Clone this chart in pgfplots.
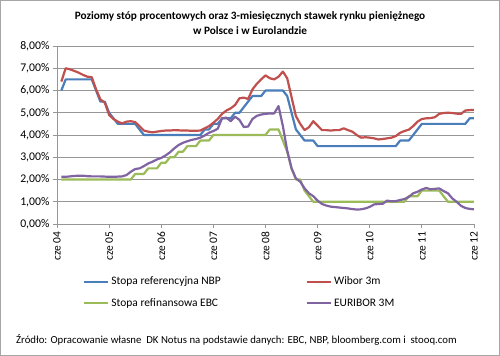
\documentclass[border=0pt]{standalone}
\usepackage{pgfplots}
\pgfplotsset{compat=1.18}
\usepackage{pgfplotstable}
\usepackage{fontspec}
\setmainfont{Carlito}
\definecolor{cblue}{RGB}{74,126,187}
\definecolor{cred}{RGB}{192,80,77}
\definecolor{cgreen}{RGB}{155,187,89}
\definecolor{cpurple}{RGB}{128,100,162}
\definecolor{gridc}{RGB}{150,150,150}
\pgfplotstableread{
m nbp wibor ebc euribor
1 6.00 6.40 2.00 2.12
2 6.50 7.00 2.00 2.12
3 6.50 6.95 2.00 2.14
4 6.50 6.88 2.00 2.16
5 6.50 6.80 2.00 2.17
6 6.50 6.70 2.00 2.17
7 6.50 6.62 2.00 2.15
8 6.50 6.60 2.00 2.14
9 6.00 6.05 2.00 2.14
10 5.50 5.60 2.00 2.14
11 5.50 5.45 2.00 2.13
12 5.00 4.90 2.00 2.12
13 4.75 4.72 2.00 2.12
14 4.50 4.60 2.00 2.13
15 4.50 4.52 2.00 2.14
16 4.50 4.60 2.00 2.20
17 4.50 4.62 2.00 2.35
18 4.50 4.58 2.25 2.47
19 4.25 4.40 2.25 2.50
20 4.00 4.20 2.25 2.60
21 4.00 4.15 2.50 2.72
22 4.00 4.12 2.50 2.80
23 4.00 4.15 2.50 2.90
24 4.00 4.18 2.75 2.97
25 4.00 4.20 2.75 3.08
26 4.00 4.20 3.00 3.22
27 4.00 4.22 3.00 3.40
28 4.00 4.21 3.25 3.55
29 4.00 4.20 3.25 3.65
30 4.00 4.20 3.50 3.72
31 4.00 4.19 3.50 3.78
32 4.00 4.19 3.50 3.82
33 4.00 4.20 3.75 3.88
34 4.25 4.30 3.75 3.98
35 4.25 4.40 3.75 4.10
36 4.50 4.55 4.00 4.18
37 4.50 4.72 4.00 4.28
38 4.75 4.95 4.00 4.75
39 4.75 5.10 4.00 4.78
40 4.75 5.20 4.00 4.62
41 5.00 5.35 4.00 4.82
42 5.00 5.65 4.00 4.68
43 5.25 5.68 4.00 4.36
44 5.50 5.62 4.00 4.38
45 5.75 6.05 4.00 4.72
46 5.75 6.30 4.00 4.86
47 5.75 6.50 4.00 4.92
48 6.00 6.68 4.00 4.95
49 6.00 6.55 4.25 4.97
50 6.00 6.50 4.25 4.97
51 6.00 6.62 4.25 5.30
52 6.00 6.85 3.75 4.40
53 5.75 6.55 3.25 3.30
54 5.00 5.70 2.50 2.50
55 4.25 4.85 2.00 2.05
56 4.00 4.50 2.00 1.90
57 3.75 4.22 1.50 1.60
58 3.75 4.35 1.25 1.38
59 3.75 4.62 1.00 1.25
60 3.50 4.42 1.00 1.05
61 3.50 4.22 1.00 0.90
62 3.50 4.22 1.00 0.83
63 3.50 4.20 1.00 0.78
64 3.50 4.22 1.00 0.76
65 3.50 4.22 1.00 0.74
66 3.50 4.30 1.00 0.72
67 3.50 4.22 1.00 0.70
68 3.50 4.15 1.00 0.67
69 3.50 4.00 1.00 0.65
70 3.50 3.88 1.00 0.66
71 3.50 3.90 1.00 0.70
72 3.50 3.88 1.00 0.77
73 3.50 3.85 1.00 0.88
74 3.50 3.80 1.00 0.90
75 3.50 3.82 1.00 0.91
76 3.50 3.85 1.00 1.05
77 3.50 3.88 1.00 1.02
78 3.50 3.95 1.00 1.03
79 3.75 4.10 1.00 1.08
80 3.75 4.18 1.00 1.12
81 3.75 4.24 1.25 1.22
82 4.00 4.40 1.25 1.38
83 4.25 4.60 1.25 1.45
84 4.50 4.72 1.50 1.55
85 4.50 4.75 1.50 1.62
86 4.50 4.76 1.50 1.56
87 4.50 4.80 1.50 1.58
88 4.50 4.95 1.50 1.60
89 4.50 4.99 1.25 1.48
90 4.50 5.00 1.00 1.38
91 4.50 4.99 1.00 1.15
92 4.50 4.96 1.00 1.00
93 4.50 4.95 1.00 0.82
94 4.50 5.10 1.00 0.72
95 4.75 5.12 1.00 0.68
96 4.75 5.12 1.00 0.66
}\rates
\begin{document}
\begin{tikzpicture}
\useasboundingbox (0,0) rectangle (500bp,356bp);
\draw[gray!70, line width=1bp] (0.5bp,0.5bp) rectangle (499.5bp,355.5bp);
\begin{axis}[
  at={(57bp,132bp)}, anchor=south west,
  width=417bp, height=178bp, scale only axis,
  xmin=0, xmax=96, ymin=0, ymax=8,
  axis x line*=bottom, axis y line*=left,
  axis line style={gridc, -, line width=0.8bp},
  xtick={0,12,...,96},
  xticklabels={cze 04,cze 05,cze 06,cze 07,cze 08,cze 09,cze 10,cze 11,cze 12},
  ytick={0,1,...,8},
  yticklabels={{0,00\%},{1,00\%},{2,00\%},{3,00\%},{4,00\%},{5,00\%},{6,00\%},{7,00\%},{8,00\%}},
  ymajorgrids, grid style={gridc, line width=0.8bp},
  tick align=outside, major tick length=4bp,
  tick style={gridc, line width=0.8bp},
  xticklabel style={rotate=90, anchor=east, font=\fontsize{11.5}{12}\selectfont},
  yticklabel style={font=\fontsize{11.8}{12}\selectfont},
  title={Poziomy stóp procentowych oraz 3-miesięcznych stawek rynku pieniężnego\\w Polsce i w Eurolandzie},
  title style={at={(axis description cs:0.463,1)}, anchor=south, align=center, font=\bfseries\fontsize{11.3}{15}\selectfont, yshift=2bp},
  legend columns=2,
  legend cell align=left,
  legend image code/.code={\draw[#1] (0bp,0bp) -- (24bp,0bp);},
  legend style={draw=none, fill=none, at={(axis description cs:0.0624,-0.285)}, anchor=north west,
    font=\fontsize{11.5}{12}\selectfont, inner sep=0pt, row sep=8bp,
    /tikz/every even column/.append style={column sep=83bp}},
  every axis plot/.append style={line width=2.2bp, line join=round},
]
\addplot[cblue] table[x=m, y=nbp] {\rates};
\addlegendentry{Stopa referencyjna NBP}
\addplot[cred] table[x=m, y=wibor] {\rates};
\addlegendentry{Wibor 3m}
\addplot[cgreen] table[x=m, y=ebc] {\rates};
\addlegendentry{Stopa refinansowa EBC}
\addplot[cpurple] table[x=m, y=euribor] {\rates};
\addlegendentry{EURIBOR 3M}
\end{axis}
\node[anchor=west, inner sep=0pt, font=\fontsize{10.8}{12}\selectfont] at (16bp,16bp) {Źródło: Opracowanie własne\ \ DK Notus na podstawie danych: EBC, NBP, bloomberg.com i\ \ stooq.com};
\end{tikzpicture}
\end{document}
